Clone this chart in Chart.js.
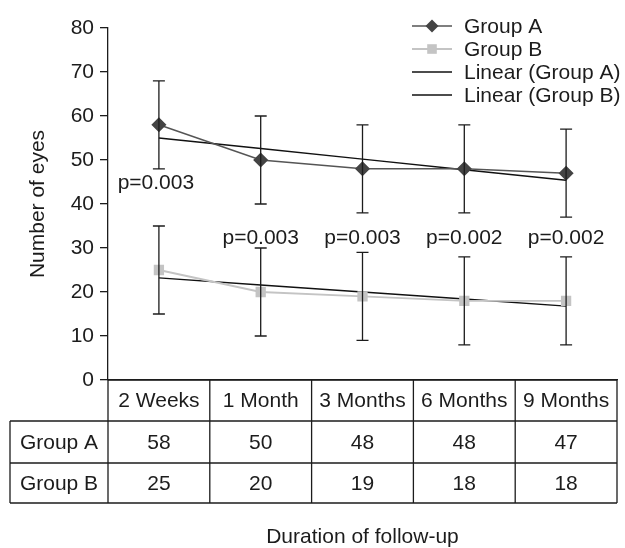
<!DOCTYPE html>
<html lang="en">
<head>
    <meta charset="UTF-8">
    <title>Number of eyes by follow-up</title>
    <script src="https://cdn.jsdelivr.net/npm/chart.js"></script>
    <style>
        html, body { margin: 0; padding: 0; background: #fff; }
        #wrap { width: 625px; height: 548px; position: relative; }
    </style>
</head>
<body>
    <div id="wrap"><canvas id="eyesChart"></canvas></div>

    <script>
        // Data
        const categories = ['2 Weeks', '1 Month', '3 Months', '6 Months', '9 Months'];
        const groupA = [58, 50, 48, 48, 47];
        const groupB = [25, 20, 19, 18, 18];
        const errA = [10, 10, 10, 10, 10];
        const errB = [10, 10, 10, 10, 10];
        const pLabels = ['p=0.003', 'p=0.003', 'p=0.003', 'p=0.002', 'p=0.002'];
        const yTicks = [0, 10, 20, 30, 40, 50, 60, 70, 80];

        const FONT = '"Liberation Sans", Arial, sans-serif';
        const FSIZE = 21;
        const INK = '#1c1c1c';

        // least squares trend line, like Excel's "Linear" trendline
        function linearFit(values) {
            const n = values.length;
            let sx = 0, sy = 0, sxy = 0, sx2 = 0;
            values.forEach((y, i) => {
                const x = i + 1;
                sx += x; sy += y; sxy += x * y; sx2 += x * x;
            });
            const slope = (n * sxy - sx * sy) / (n * sx2 - sx * sx);
            const intercept = (sy - slope * sx) / n;
            return values.map((_, i) => slope * (i + 1) + intercept);
        }

        // error bars + p values + table + legend
        const extras = {
            id: 'extras',
            afterDatasetsDraw(chart) {
                const { ctx, chartArea: area } = chart;
                const x = chart.scales.x, y = chart.scales.y;
                ctx.save();
                ctx.strokeStyle = INK;
                ctx.lineWidth = 1.3;
                [[groupA, errA], [groupB, errB]].forEach(([vals, errs]) => {
                    vals.forEach((v, i) => {
                        const px = x.getPixelForValue(i);
                        const top = y.getPixelForValue(v + errs[i]);
                        const bot = y.getPixelForValue(v - errs[i]);
                        ctx.beginPath();
                        ctx.moveTo(px, top); ctx.lineTo(px, bot);
                        ctx.moveTo(px - 6, top); ctx.lineTo(px + 6, top);
                        ctx.moveTo(px - 6, bot); ctx.lineTo(px + 6, bot);
                        ctx.stroke();
                    });
                });

                // p values: first sits under group A's bar, the rest over group B's bars
                ctx.fillStyle = INK;
                ctx.font = FSIZE + 'px ' + FONT;
                ctx.textAlign = 'center';
                ctx.textBaseline = 'middle';
                pLabels.forEach((t, i) => {
                    const val = i === 0 ? 44.8 : 32.3;
                    const dx = i === 0 ? -3 : 0;
                    ctx.fillText(t, x.getPixelForValue(i) + dx, y.getPixelForValue(val));
                });

                // table under the axis
                const rowTop = area.bottom;
                const labelLeft = 10;
                const edges = [area.left];
                for (let i = 0; i < categories.length - 1; i++) {
                    edges.push((x.getPixelForValue(i) + x.getPixelForValue(i + 1)) / 2);
                }
                edges.push(area.right);
                const r1 = rowTop + 41, r2 = r1 + 42, r3 = r2 + 40;
                ctx.lineWidth = 1.3;
                ctx.beginPath();
                ctx.moveTo(area.left, rowTop); ctx.lineTo(area.right, rowTop);
                [r1, r2, r3].forEach(ry => { ctx.moveTo(labelLeft, ry); ctx.lineTo(area.right, ry); });
                edges.forEach(ex => { ctx.moveTo(ex, rowTop); ctx.lineTo(ex, r3); });
                ctx.moveTo(labelLeft, r1); ctx.lineTo(labelLeft, r3);
                ctx.stroke();

                categories.forEach((c, i) => {
                    const cx = x.getPixelForValue(i);
                    ctx.fillText(c, cx, (rowTop + r1) / 2 + 1);
                    ctx.fillText(String(groupA[i]), cx, (r1 + r2) / 2 + 1);
                    ctx.fillText(String(groupB[i]), cx, (r2 + r3) / 2 + 1);
                });
                ctx.fillText('Group A', (labelLeft + area.left) / 2, (r1 + r2) / 2 + 1);
                ctx.fillText('Group B', (labelLeft + area.left) / 2, (r2 + r3) / 2 + 1);

                // legend, top right
                const lx = 412, tx = 464;
                chart.data.datasets.forEach((ds, i) => {
                    const ly = 26 + i * 23;
                    ctx.strokeStyle = ds.borderColor;
                    ctx.lineWidth = ds.borderWidth;
                    ctx.beginPath();
                    ctx.moveTo(lx, ly); ctx.lineTo(lx + 40, ly);
                    ctx.stroke();
                    if (ds.pointRadius > 0) {
                        ctx.fillStyle = ds.pointBackgroundColor;
                        const r = ds.pointRadius;
                        ctx.beginPath();
                        if (ds.pointStyle === 'rectRot') {
                            ctx.moveTo(lx + 20, ly - r); ctx.lineTo(lx + 20 + r, ly);
                            ctx.lineTo(lx + 20, ly + r); ctx.lineTo(lx + 20 - r, ly);
                            ctx.closePath();
                        } else {
                            ctx.rect(lx + 20 - r * 0.8, ly - r * 0.8, r * 1.6, r * 1.6);
                        }
                        ctx.fill();
                    }
                    ctx.fillStyle = INK;
                    ctx.textAlign = 'left';
                    ctx.fillText(ds.label, tx, ly + 1);
                });
                ctx.restore();
            }
        };

        const ctx = document.getElementById('eyesChart').getContext('2d');
        new Chart(ctx, {
            type: 'line',
            data: {
                labels: categories,
                datasets: [{
                    label: 'Group A',
                    data: groupA,
                    borderColor: '#555',
                    borderWidth: 1.5,
                    pointStyle: 'rectRot',
                    pointRadius: 6.5,
                    pointBackgroundColor: '#444',
                    pointBorderColor: '#444',
                    tension: 0
                }, {
                    label: 'Group B',
                    data: groupB,
                    borderColor: '#c4c4c4',
                    borderWidth: 1.8,
                    pointStyle: 'rect',
                    pointRadius: 6,
                    pointBackgroundColor: '#c4c4c4',
                    pointBorderColor: '#c4c4c4',
                    tension: 0
                }, {
                    label: 'Linear (Group A)',
                    data: linearFit(groupA),
                    borderColor: '#111',
                    borderWidth: 1.4,
                    pointRadius: 0,
                    tension: 0
                }, {
                    label: 'Linear (Group B)',
                    data: linearFit(groupB),
                    borderColor: '#111',
                    borderWidth: 1.4,
                    pointRadius: 0,
                    tension: 0
                }]
            },
            options: {
                responsive: true,
                maintainAspectRatio: false,
                animation: false,
                layout: { padding: { top: 28, right: 3, bottom: 0, left: 0 } },
                plugins: { legend: { display: false }, tooltip: { enabled: false } },
                scales: {
                    x: {
                        type: 'category',
                        offset: true,
                        grid: { display: false },
                        border: { display: true, color: INK, width: 1.3 },
                        ticks: { display: false },
                        title: {
                            display: true,
                            text: 'Duration of follow-up',
                            color: INK,
                            font: { family: FONT, size: FSIZE },
                            padding: { top: 0, bottom: -2 }
                        },
                        afterFit(scale) { scale.height = 168; }
                    },
                    y: {
                        min: 0,
                        max: 80,
                        afterBuildTicks(scale) { scale.ticks = yTicks.map(v => ({ value: v })); },
                        grid: { display: true, drawOnChartArea: false, drawTicks: true, tickLength: 8, color: INK, lineWidth: 1.3 },
                        border: { display: true, color: INK, width: 1.3 },
                        ticks: { color: INK, padding: 6, font: { family: FONT, size: FSIZE } },
                        title: {
                            display: true,
                            text: 'Number of eyes',
                            color: INK,
                            font: { family: FONT, size: FSIZE },
                            padding: { top: 26, bottom: 0 }
                        },
                        afterFit(scale) { scale.width = 108; }
                    }
                }
            },
            plugins: [extras]
        });
    </script>
</body>
</html>
